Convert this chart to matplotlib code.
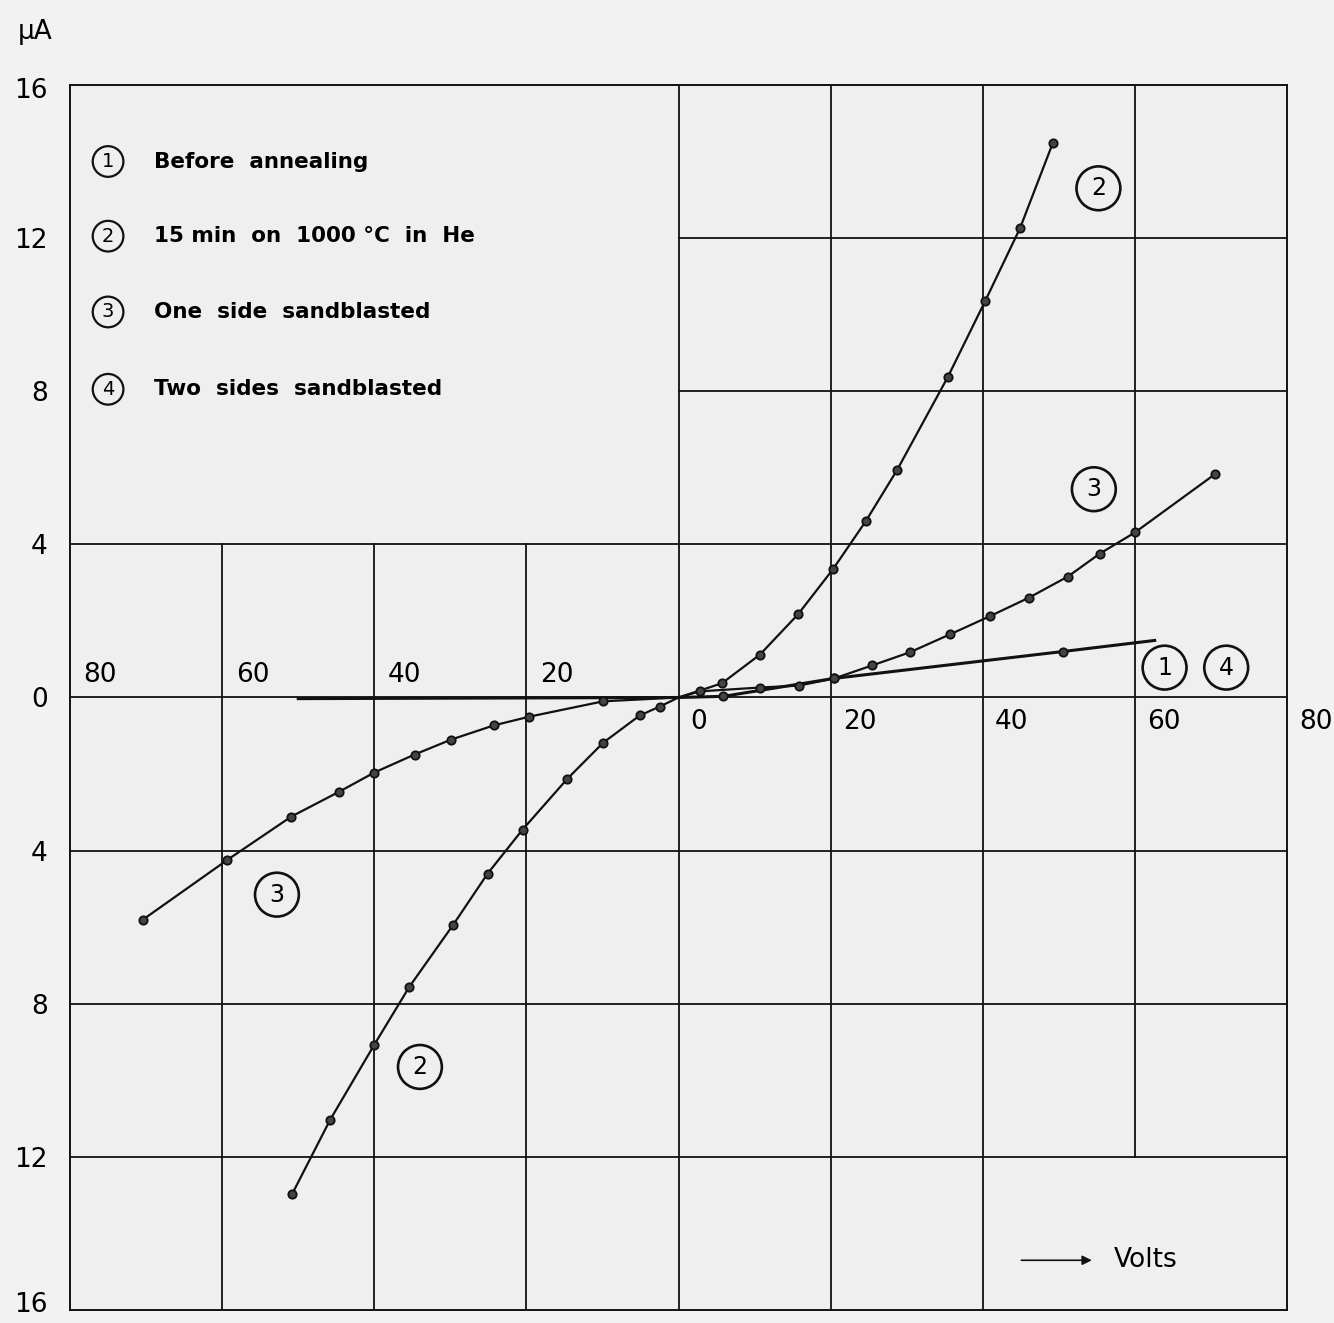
import numpy as np
import matplotlib.pyplot as plt
from matplotlib.transforms import ScaledTranslation

# ---------------------------------------------
# Data (Volts, µA)
# ---------------------------------------------
c2_pos_v = [0, 5.7, 10.7, 15.7, 20.3, 24.6, 28.7, 35.4, 40.3, 44.9, 49.2]
c2_pos_i = [0, 0.37, 1.12, 2.17, 3.35, 4.6, 5.93, 8.37, 10.35, 12.26, 14.48]
c2_neg_v = [0, -2.5, -5.1, -9.9, -14.6, -20.5, -25.1, -29.6, -35.4, -40.0, -45.8, -50.8]
c2_neg_i = [0, -0.24, -0.47, -1.18, -2.12, -3.45, -4.6, -5.93, -7.56, -9.07, -11.03, -12.97]

c3_pos_v = [0, 2.8, 10.7, 15.8, 20.5, 25.5, 30.4, 35.7, 40.9, 46.1, 51.2, 55.4, 60.0, 70.5]
c3_pos_i = [0, 0.16, 0.26, 0.31, 0.50, 0.84, 1.18, 1.65, 2.12, 2.61, 3.16, 3.76, 4.31, 5.83]
c3_neg_v = [0, -9.9, -19.6, -24.3, -29.9, -34.7, -40.0, -44.6, -50.9, -59.3, -70.4]
c3_neg_i = [0, -0.10, -0.50, -0.73, -1.10, -1.49, -1.96, -2.46, -3.11, -4.24, -5.80]

c14_v = [-50, 0, 5.9, 20.5, 50.5, 62.6]
c14_i = [-0.03, 0, 0.03, 0.50, 1.20, 1.49]
c14_mark_v = [5.9, 20.5, 50.5]
c14_mark_i = [0.03, 0.50, 1.20]

legend_nums = ["1", "2", "3", "4"]
legend_text = ["Before  annealing", "15 min  on  1000 °C  in  He",
               "One  side  sandblasted", "Two  sides  sandblasted"]
legend_y = [14.0, 12.05, 10.07, 8.05]

yticks = [16, 12, 8, 4, 0, -4, -8, -12, -16]
xticks_left = [-80, -60, -40, -20]
xticks_right = [0, 20, 40, 60, 80]

# ---------------------------------------------
fig = plt.figure(figsize=(13.34, 13.23), dpi=100, facecolor="#f2f2f2")
ax = fig.add_axes([0.0525, 0.0098, 0.9123, 0.926])
ax.set_facecolor("#efefef")
ax.set_xlim(-80, 80)
ax.set_ylim(-16, 16)

for s in ax.spines.values():
    s.set_linewidth(1.4)
    s.set_color("#111111")

# grid (the legend corner is left empty, like the original sheet)
gkw = dict(color="#111111", lw=1.3, zorder=1)
for y in [4, 0, -4, -8, -12]:
    ax.plot([-80, 80], [y, y], **gkw)
for y in [12, 8]:
    ax.plot([0, 80], [y, y], **gkw)
for x in [-60, -40, -20]:
    ax.plot([x, x], [-16, 4], **gkw)
for x in [0, 20, 40]:
    ax.plot([x, x], [-16, 16], **gkw)
ax.plot([60, 60], [-12, 16], **gkw)

# curves
lkw = dict(color="#111111", lw=1.6, zorder=3)
mkw = dict(marker="o", ms=6, mfc="#444444", mec="#111111", mew=1.3, ls="none", zorder=4)
ax.plot(c2_pos_v, c2_pos_i, **lkw)
ax.plot(c2_neg_v, c2_neg_i, **lkw)
ax.plot(c2_pos_v[1:], c2_pos_i[1:], **mkw)
ax.plot(c2_neg_v[1:], c2_neg_i[1:], **mkw)
ax.plot(c3_pos_v, c3_pos_i, **lkw)
ax.plot(c3_neg_v, c3_neg_i, **lkw)
ax.plot(c3_pos_v[1:], c3_pos_i[1:], **mkw)
ax.plot(c3_neg_v[1:], c3_neg_i[1:], **mkw)
ax.plot(c14_v, c14_i, lw=2.2, color="#111111", zorder=3)
ax.plot(c14_mark_v, c14_mark_i, **mkw)

# ticks
ax.set_xticks([])
ax.set_yticks(yticks)
ax.set_yticklabels([str(abs(v)) for v in yticks], fontsize=19)
ax.tick_params(axis="y", length=0, pad=16)
# bottom "16" sits a little higher in the original
lbls = ax.get_yticklabels()
lbls[-1].set_transform(lbls[-1].get_transform() + ScaledTranslation(0, 6 / 72, fig.dpi_scale_trans))
lbls[0].set_transform(lbls[0].get_transform() + ScaledTranslation(0, -2 / 72, fig.dpi_scale_trans))

for v in xticks_left:
    ax.text(v + 1.8, 0.6, str(abs(v)), fontsize=19, ha="left", va="center", zorder=5)
for v in xticks_right:
    ax.text(v + 1.6, -0.65, str(abs(v)), fontsize=19, ha="left", va="center",
            clip_on=False, zorder=5)

fig.text(0.026, 0.976, "µA", fontsize=19, ha="center", va="center")

# circled curve labels
ckw = dict(fontsize=17, ha="center", va="center", zorder=6,
           bbox=dict(boxstyle="circle,pad=0.42", fc="none", ec="#111111", lw=1.9))
ax.text(55.2, 13.3, "2", **ckw)
ax.text(54.6, 5.44, "3", **ckw)
ax.text(63.9, 0.78, "1", **ckw)
ax.text(72.0, 0.78, "4", **ckw)
ax.text(-52.8, -5.15, "3", **ckw)
ax.text(-34.0, -9.65, "2", **ckw)

# legend block
for n, t, y in zip(legend_nums, legend_text, legend_y):
    ax.text(-75.0, y, n, fontsize=14, ha="center", va="center",
            bbox=dict(boxstyle="circle,pad=0.3", fc="none", ec="#111111", lw=1.6))
    ax.text(-69.0, y, t, fontsize=15.5, fontweight="bold", ha="left", va="center")

# Volts arrow
ax.annotate("", xy=(54.7, -14.7), xytext=(44.7, -14.7),
            arrowprops=dict(arrowstyle="-|>", color="#111111", lw=1.2, mutation_scale=14))
ax.text(57.2, -14.7, "Volts", fontsize=19, ha="left", va="center")

fig.savefig("out.png", dpi=100, facecolor=fig.get_facecolor())
